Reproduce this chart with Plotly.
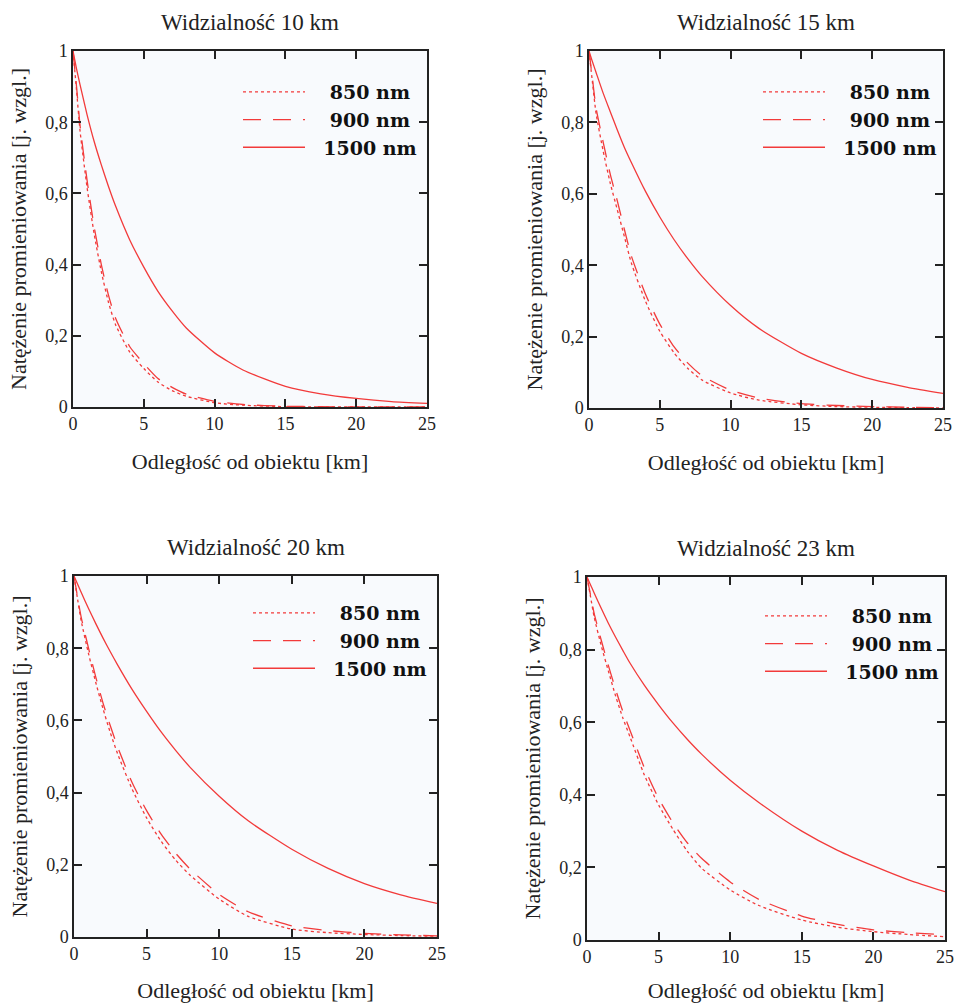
import plotly.graph_objects as go

# distance grid [km]
dist_km = [0, 0.25, 0.5, 1, 1.5, 2, 2.5, 3, 4, 5, 6, 7, 8, 10, 12, 15, 17.5, 20, 22.5, 25]

panel_titles = ["Widzialność 10 km", "Widzialność 15 km", "Widzialność 20 km", "Widzialność 23 km"]
series_names = ["\u2007\u2008850 nm", "\u2007\u2008900 nm", "\u20071500 nm"]

# Visibility 10 km
v10_850 = [1, 0.89, 0.775, 0.615, 0.485, 0.38, 0.295, 0.232, 0.155, 0.108, 0.07, 0.046, 0.03, 0.012, 0.005, 0.001, 0.0005, 0, 0, 0]
v10_900 = [1, 0.90, 0.79, 0.635, 0.505, 0.40, 0.315, 0.25, 0.17, 0.122, 0.08, 0.055, 0.036, 0.016, 0.007, 0.002, 0.001, 0, 0, 0]
v10_1500 = [1, 0.95, 0.905, 0.82, 0.745, 0.68, 0.62, 0.565, 0.47, 0.393, 0.325, 0.27, 0.222, 0.152, 0.104, 0.058, 0.037, 0.024, 0.015, 0.01]

# Visibility 15 km
v15_850 = [1, 0.91, 0.825, 0.72, 0.63, 0.555, 0.48, 0.405, 0.298, 0.215, 0.155, 0.11, 0.078, 0.042, 0.022, 0.009, 0.004, 0.002, 0.001, 0]
v15_900 = [1, 0.92, 0.84, 0.745, 0.655, 0.58, 0.50, 0.425, 0.318, 0.235, 0.172, 0.125, 0.09, 0.05, 0.028, 0.012, 0.007, 0.004, 0.002, 0.001]
v15_1500 = [1, 0.969, 0.94, 0.882, 0.83, 0.779, 0.73, 0.687, 0.606, 0.535, 0.472, 0.417, 0.368, 0.287, 0.223, 0.153, 0.112, 0.08, 0.058, 0.041]

# Visibility 20 km
v20_850 = [1, 0.935, 0.875, 0.785, 0.705, 0.632, 0.566, 0.508, 0.41, 0.33, 0.265, 0.213, 0.171, 0.105, 0.057, 0.022, 0.012, 0.007, 0.004, 0.002]
v20_900 = [1, 0.94, 0.885, 0.80, 0.72, 0.648, 0.585, 0.527, 0.428, 0.35, 0.285, 0.232, 0.188, 0.118, 0.07, 0.031, 0.018, 0.01, 0.006, 0.003]
v20_1500 = [1, 0.977, 0.954, 0.91, 0.868, 0.828, 0.79, 0.754, 0.686, 0.625, 0.568, 0.517, 0.47, 0.39, 0.322, 0.243, 0.19, 0.148, 0.117, 0.093]

# Visibility 23 km
v23_850 = [1, 0.945, 0.89, 0.81, 0.74, 0.672, 0.612, 0.56, 0.455, 0.372, 0.305, 0.245, 0.198, 0.138, 0.095, 0.055, 0.035, 0.023, 0.015, 0.009]
v23_900 = [1, 0.95, 0.90, 0.825, 0.755, 0.69, 0.63, 0.578, 0.475, 0.39, 0.323, 0.268, 0.225, 0.16, 0.112, 0.066, 0.043, 0.028, 0.02, 0.015]
v23_1500 = [1, 0.978, 0.956, 0.913, 0.872, 0.834, 0.798, 0.763, 0.702, 0.648, 0.598, 0.553, 0.512, 0.44, 0.379, 0.30, 0.247, 0.204, 0.165, 0.133]

panels = [
    [v10_850, v10_900, v10_1500],
    [v15_850, v15_900, v15_1500],
    [v20_850, v20_900, v20_1500],
    [v23_850, v23_900, v23_1500],
]

x_ticks = [0, 5, 10, 15, 20, 25]
x_ticktext = ["0", "5", "10", "15", "20", "25"]
y_ticks = [0, 0.2, 0.4, 0.6, 0.8, 1]
y_ticktext = ["0", "0,2", "0,4", "0,6", "0,8", "1"]

x_title = "Odległość od obiektu [km]"
y_title = "Natężenie promieniowania [j. wzgl.]"

W, H = 955, 1003
# plot-area pixel boxes (left, right, top, bottom)
boxes = [(73, 427, 51, 407), (589, 943, 51, 408), (74, 437, 576, 937), (587, 945, 577, 940)]
legend_pos = [(238, 73), (758, 73), (248, 594), (760, 597)]

SERIF = "Liberation Serif"
LEG_FONT = "DejaVu Serif"
RED = "#f23a3a"
dashes = ["dot", "18px,12px", "solid"]

fig = go.Figure()
layout = dict(
    width=W, height=H,
    margin=dict(l=0, r=0, t=0, b=0, autoexpand=False),
    paper_bgcolor="white",
    plot_bgcolor="#f8fafd",
    font=dict(family=SERIF, color="#222", size=16),
    annotations=[],
    showlegend=True,
)

for i, (vals, box) in enumerate(zip(panels, boxes)):
    n = "" if i == 0 else str(i + 1)
    leg = "legend" if i == 0 else f"legend{i + 1}"
    for j, name in enumerate(series_names):
        fig.add_trace(go.Scatter(
            x=dist_km, y=vals[j], mode="lines", name=name,
            line=dict(color=RED, width=1.3, dash=dashes[j], shape="spline", smoothing=0.6),
            xaxis="x" + n, yaxis="y" + n, legend=leg,
        ))
    l, r, t, b = box
    common = dict(
        showline=True, linecolor="#222", linewidth=1.5, mirror="ticks",
        ticks="inside", ticklen=8, tickwidth=1.5, tickcolor="#222",
        showgrid=False, zeroline=False, automargin=False,
        tickfont=dict(family=SERIF, size=18, color="#222"),
    )
    layout["xaxis" + n] = dict(
        domain=[l / W, r / W], range=[0, 25], anchor="y" + n,
        tickvals=x_ticks, ticktext=x_ticktext,
        title=dict(text=x_title, font=dict(family=SERIF, size=22, color="#222"), standoff=20),
        **common,
    )
    layout["yaxis" + n] = dict(
        domain=[1 - b / H, 1 - t / H], range=[0, 1], anchor="x" + n,
        tickvals=y_ticks, ticktext=y_ticktext,
        title=dict(text=y_title, font=dict(family=SERIF, size=22, color="#222"), standoff=12),
        **common,
    )
    layout["annotations"].append(dict(
        text=panel_titles[i], xref="paper", yref="paper",
        x=(l + r) / 2 / W, y=1 - (t - 29) / H, xanchor="center", yanchor="middle",
        showarrow=False, font=dict(family=SERIF, size=23, color="#222"),
    ))
    lx, ly = legend_pos[i]
    layout[leg] = dict(
        x=lx / W, y=1 - ly / H, xanchor="left", yanchor="top", xref="paper", yref="paper",
        bgcolor="rgba(0,0,0,0)", itemwidth=62,
        font=dict(family=LEG_FONT, size=19, color="#111", weight="bold"),
    )

fig.update_layout(**layout)
fig.write_html(
    "out.html",
    config={"displayModeBar": False},
    post_script="document.body.style.margin='0';document.body.style.overflow='hidden';",
)
